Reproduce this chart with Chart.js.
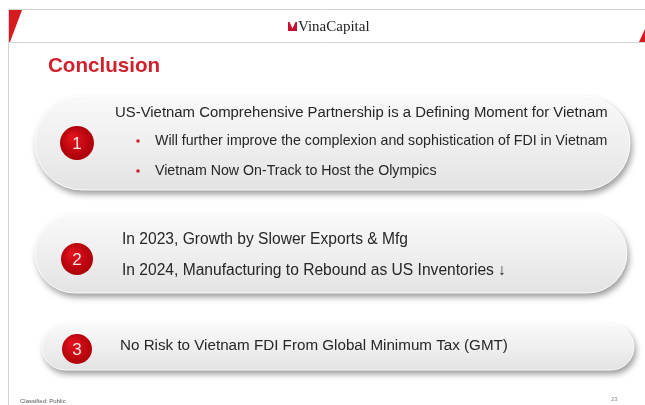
<!DOCTYPE html>
<html>
<head>
<meta charset="utf-8">
<script src="https://cdn.jsdelivr.net/npm/chart.js@4"></script>
<style>
  html, body { margin: 0; padding: 0; background: #fff; }
  #wrap { width: 645px; height: 405px; position: relative; }
</style>
</head>
<body>
<div id="wrap"><canvas id="slideChart" width="645" height="405"></canvas></div>
<script>
// Contenuto della slide
const slideTitle = 'Conclusion';
const brandName = 'VinaCapital';
const itemNumbers = ['1', '2', '3'];
const headlines = [
  'US-Vietnam Comprehensive Partnership is a Defining Moment for Vietnam',
  'In 2023, Growth by Slower Exports & Mfg',
  'No Risk to Vietnam FDI From Global Minimum Tax (GMT)'
];
const subLines = [
  ['Will further improve the complexion and sophistication of FDI in Vietnam', 'Vietnam Now On-Track to Host the Olympics'],
  ['In 2024, Manufacturing to Rebound as US Inventories \u2193'],
  []
];
const bulletedSubLines = [true, false, false];
const footerLeft = 'Classified: Public';
const pageNumber = '23';

// Layout (pixel) delle tre fasce
const panelBoxes = [
  { left: 35, top: 96, right: 630, bottom: 190 },
  { left: 35, top: 214, right: 627, bottom: 293 },
  { left: 42, top: 324, right: 634, bottom: 370 }
];
const badgeCenters = [{ x: 77, y: 143 }, { x: 77, y: 259 }, { x: 77, y: 349 }];
const badgeRadius = [17, 16, 15];
const textLeft = [115, 122, 120];
const lineYs = [[113, 141, 171], [240, 271], [346]];
const headSize = [14.9, 15.6, 15.2];
const subSize = [14.2, 15.6, 15.2];

const ctx = document.getElementById('slideChart').getContext('2d');

function pill(c, b) {
  const r = (b.bottom - b.top) / 2;
  c.beginPath();
  c.moveTo(b.left + r, b.top);
  c.lineTo(b.right - r, b.top);
  c.arc(b.right - r, b.top + r, r, -Math.PI / 2, Math.PI / 2);
  c.lineTo(b.left + r, b.bottom);
  c.arc(b.left + r, b.top + r, r, Math.PI / 2, Math.PI * 1.5);
  c.closePath();
}

// Plugin per sfondo, intestazione e fasce
const slidePlugin = {
  id: 'slidePlugin',
  beforeDatasetsDraw(chart) {
    const c = chart.ctx;
    c.save();
    // bordi intestazione
    c.strokeStyle = '#d4d4d4';
    c.lineWidth = 1;
    c.beginPath();
    c.moveTo(8.5, 9.5); c.lineTo(645, 9.5);
    c.moveTo(8.5, 42.5); c.lineTo(645, 42.5);
    c.moveTo(8.5, 9.5); c.lineTo(8.5, 405);
    c.stroke();
    // triangoli rossi
    c.fillStyle = '#d71920';
    c.beginPath();
    c.moveTo(9, 10); c.lineTo(22, 10); c.lineTo(10, 42); c.lineTo(9, 42);
    c.closePath(); c.fill();
    c.beginPath();
    c.moveTo(645, 29); c.lineTo(645, 42); c.lineTo(639, 42);
    c.closePath(); c.fill();
    // logo
    c.fillStyle = '#c8102e';
    c.fillRect(288, 22, 9, 9);
    c.fillStyle = '#fff';
    c.beginPath();
    c.moveTo(289.5, 22); c.lineTo(295.5, 22); c.lineTo(292.5, 28.5);
    c.closePath(); c.fill();
    c.fillStyle = '#222';
    c.font = '15px "Liberation Serif", serif';
    c.textBaseline = 'middle';
    c.fillText(brandName, 298, 27);
    // titolo
    c.fillStyle = '#d3202c';
    c.font = 'bold 20.6px "Liberation Sans", Arial, sans-serif';
    c.textBaseline = 'alphabetic';
    c.fillText(slideTitle, 48, 72);
    // fasce
    panelBoxes.forEach(b => {
      c.save();
      c.shadowColor = 'rgba(0,0,0,0.4)';
      c.shadowBlur = 6;
      c.shadowOffsetX = 2;
      c.shadowOffsetY = 4;
      pill(c, b);
      const g = c.createLinearGradient(0, b.top, 0, b.bottom);
      g.addColorStop(0, '#f9f9f9');
      g.addColorStop(0.5, '#efefef');
      g.addColorStop(1, '#e3e3e3');
      c.fillStyle = g;
      c.fill();
      c.restore();
      pill(c, b);
      c.strokeStyle = 'rgba(255,255,255,0.9)';
      c.lineWidth = 1;
      c.stroke();
    });
    // piè di pagina
    c.fillStyle = '#555';
    c.font = '6px "Liberation Sans", sans-serif';
    c.fillText(footerLeft, 20, 403);
    c.fillStyle = '#888';
    c.fillText(pageNumber, 611, 401);
    c.restore();
  },
  afterDatasetsDraw(chart) {
    const c = chart.ctx;
    const meta = chart.getDatasetMeta(0);
    c.save();
    c.textBaseline = 'middle';
    meta.data.forEach((pt, i) => {
      // numero nel cerchio
      c.fillStyle = '#fbe3e3';
      c.font = '17px "Liberation Sans", sans-serif';
      c.textAlign = 'center';
      c.fillText(itemNumbers[i], pt.x, pt.y + 1);
      c.textAlign = 'left';
      c.fillStyle = '#262626';
      c.font = headSize[i] + 'px "Liberation Sans", Arial, sans-serif';
      c.fillText(headlines[i], textLeft[i], lineYs[i][0]);
      c.font = subSize[i] + 'px "Liberation Sans", Arial, sans-serif';
      subLines[i].forEach((s, j) => {
        const y = lineYs[i][j + 1];
        if (bulletedSubLines[i]) {
          c.fillStyle = '#d3202c';
          c.beginPath();
          c.arc(138, y, 1.8, 0, Math.PI * 2);
          c.fill();
          c.fillStyle = '#262626';
          c.fillText(s, 155, y);
        } else {
          c.fillText(s, textLeft[i], y);
        }
      });
    });
    c.restore();
  }
};

const badgeData = itemNumbers.map((n, i) => ({ x: badgeCenters[i].x, y: badgeCenters[i].y }));

const chart = new Chart(ctx, {
  type: 'scatter',
  data: {
    datasets: [{
      label: 'items',
      data: badgeData,
      pointRadius: badgeRadius,
      pointHoverRadius: badgeRadius,
      pointBorderWidth: 0,
      pointBackgroundColor: function(context) {
        const el = context.element;
        if (!el || el.x === undefined) return '#c00000';
        const cc = context.chart.ctx;
        const g = cc.createRadialGradient(el.x - 5, el.y - 6, 2, el.x, el.y, 18);
        g.addColorStop(0, '#e0121c');
        g.addColorStop(1, '#a80008');
        return g;
      },
      pointStyle: 'circle',
      clip: false
    }]
  },
  options: {
    responsive: false,
    animation: false,
    events: [],
    layout: { padding: 0, autoPadding: false },
    plugins: { legend: { display: false }, tooltip: { enabled: false } },
    scales: {
      x: { type: 'linear', min: 0, max: 645, display: false },
      y: { type: 'linear', min: 0, max: 405, reverse: true, display: false }
    }
  },
  plugins: [slidePlugin]
});
</script>
</body>
</html>
